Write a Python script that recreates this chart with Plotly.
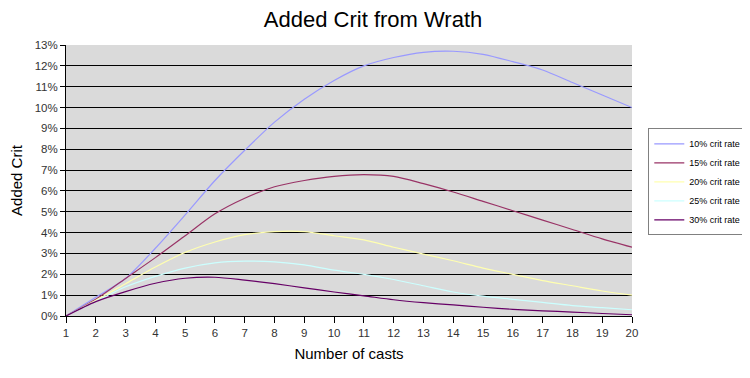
import plotly.graph_objects as go

casts = list(range(1, 21))
series_names = ["10% crit rate", "15% crit rate", "20% crit rate", "25% crit rate", "30% crit rate"]
crit10 = [0, 0.9, 1.8, 3.25, 4.85, 6.5, 7.95, 9.3, 10.4, 11.3, 12.0, 12.4, 12.65, 12.7, 12.55, 12.2, 11.8, 11.2, 10.6, 10.0]
crit15 = [0, 0.8, 1.8, 2.8, 3.85, 4.9, 5.65, 6.2, 6.5, 6.7, 6.78, 6.7, 6.35, 5.95, 5.5, 5.05, 4.6, 4.15, 3.7, 3.3]
crit20 = [0, 0.75, 1.55, 2.35, 3.05, 3.55, 3.9, 4.05, 4.05, 3.85, 3.65, 3.3, 2.97, 2.65, 2.3, 2.0, 1.7, 1.45, 1.2, 1.0]
crit25 = [0, 0.7, 1.4, 1.9, 2.3, 2.55, 2.63, 2.6, 2.45, 2.2, 2.0, 1.75, 1.45, 1.15, 0.95, 0.8, 0.65, 0.5, 0.4, 0.3]
crit30 = [0, 0.69, 1.17, 1.57, 1.81, 1.86, 1.72, 1.55, 1.35, 1.15, 0.97, 0.78, 0.64, 0.53, 0.42, 0.32, 0.25, 0.19, 0.12, 0.06]
y_ticks = list(range(0, 14))
y_tick_labels = [f"{v}%" for v in y_ticks]

colors = ["#9999FF", "#993366", "#FFFFB0", "#CCFFFF", "#660066"]
data = [crit10, crit15, crit20, crit25, crit30]

fig = go.Figure()
for name, vals, col in zip(series_names, data, colors):
    fig.add_trace(go.Scatter(
        x=casts, y=vals, name=name, mode="lines",
        line=dict(color=col, width=1.2, shape="spline", smoothing=0.8),
    ))

# The page body has an 8px default margin; the figure is sized to fit the 750x378 window.
font_family = "Liberation Sans, Arial, sans-serif"
fig.update_layout(
    width=742, height=370,
    margin=dict(l=58, r=118, t=37, b=62, autoexpand=False),
    paper_bgcolor="white",
    plot_bgcolor="#DADADA",
    font=dict(family=font_family, color="#000000"),
    title=dict(text="Added Crit from Wrath", xref="container", x=0.492, xanchor="center",
               yref="container", y=0.969, yanchor="middle",
               font=dict(size=22, family=font_family, color="#000000")),
    showlegend=True,
    legend=dict(
        xref="container", yref="container",
        x=0.995, y=0.53, xanchor="right", yanchor="middle",
        bgcolor="#FFFFFF", bordercolor="#808080", borderwidth=1,
        font=dict(size=9, family=font_family, color="#000000"),
        itemwidth=30, tracegroupgap=0,
    ),
    xaxis=dict(
        range=[1, 20], tickmode="array", tickvals=casts, ticktext=[str(c) for c in casts],
        showgrid=False, zeroline=False, automargin=False,
        showline=True, linecolor="#000000", linewidth=1,
        ticks="outside", ticklen=6, tickcolor="#000000",
        tickfont=dict(size=11.5, color="#333333"),
        title=dict(text="Number of casts", font=dict(size=15), standoff=10),
    ),
    yaxis=dict(
        range=[0, 13], tickmode="array", tickvals=y_ticks, ticktext=y_tick_labels,
        showgrid=True, gridcolor="#000000", gridwidth=1,
        zeroline=False, automargin=False,
        showline=True, linecolor="#000000", linewidth=1,
        ticks="outside", ticklen=5, tickcolor="#000000",
        tickfont=dict(size=11.5, color="#333333"),
        title=dict(text="Added Crit", font=dict(size=15), standoff=11),
    ),
)

fig.write_html("out.html")
